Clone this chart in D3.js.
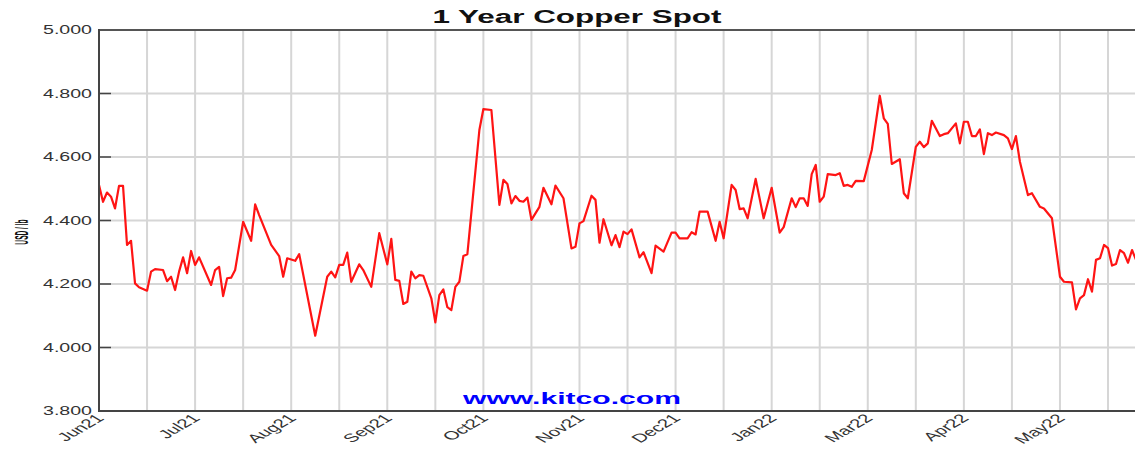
<!DOCTYPE html>
<html>
<head>
<meta charset="utf-8">
<script src="https://cdn.jsdelivr.net/npm/d3@7"></script>
<style>
  body { margin: 0; background: #fff; }
  svg { display: block; font-family: "Liberation Sans", Arial, sans-serif; }
</style>
</head>
<body>
<div id="container"></div>
<script>
// trading day index (0 = start of Jun21) and copper spot price, USD / lb
let tradeDay = [0,1,2,3,4,5,6,7,8,9,10,12,13,14,16,17,18,19,20,21,22,23,24,25,28,29,30,31,32,33,34,36,38,39,40,43,45,46,47,49,50,54,57,58,59,60,61,62,63,65,66,68,70,72,73,74,75,76,77,78,79,80,81,83,84,85,86,87,88,89,90,91,92,95,96,98,100,101,102,103,104,105,106,107,108,110,111,113,114,116,118,119,120,121,123,124,125,126,128,129,130,131,132,133,135,136,138,139,141,143,144,145,147,148,149,150,152,154,155,156,158,159,160,161,162,164,166,168,170,171,173,174,175,176,177,178,179,180,181,182,184,185,186,187,188,189,191,193,195,196,197,198,200,201,202,204,205,206,207,208,210,211,212,214,215,216,217,218,219,220,221,222,223,224,226,227,228,229,230,232,233,235,236,238,240,241,243,244,245,246,247,248,249,250,251,252,253,254,255,256,257,258,259];
let spotPrice = [4.512,4.459,4.488,4.475,4.438,4.509,4.509,4.323,4.336,4.202,4.190,4.179,4.239,4.247,4.244,4.209,4.223,4.181,4.239,4.284,4.234,4.304,4.260,4.284,4.197,4.244,4.254,4.162,4.218,4.220,4.244,4.396,4.336,4.451,4.417,4.323,4.288,4.223,4.281,4.273,4.294,4.037,4.223,4.239,4.221,4.260,4.260,4.299,4.207,4.262,4.244,4.191,4.360,4.262,4.342,4.213,4.210,4.137,4.144,4.239,4.218,4.228,4.226,4.155,4.079,4.165,4.183,4.127,4.118,4.191,4.207,4.288,4.294,4.685,4.751,4.748,4.449,4.528,4.515,4.454,4.477,4.462,4.459,4.472,4.402,4.443,4.503,4.451,4.510,4.470,4.312,4.317,4.391,4.398,4.478,4.465,4.330,4.404,4.322,4.354,4.316,4.365,4.357,4.372,4.284,4.300,4.234,4.321,4.302,4.362,4.362,4.344,4.344,4.363,4.356,4.428,4.428,4.336,4.396,4.344,4.512,4.496,4.436,4.438,4.407,4.531,4.407,4.503,4.362,4.379,4.470,4.442,4.470,4.470,4.446,4.546,4.575,4.459,4.475,4.546,4.543,4.549,4.509,4.512,4.506,4.525,4.524,4.622,4.793,4.722,4.704,4.578,4.593,4.486,4.470,4.632,4.648,4.631,4.643,4.714,4.666,4.672,4.675,4.706,4.643,4.711,4.711,4.666,4.666,4.687,4.609,4.675,4.669,4.677,4.669,4.659,4.625,4.666,4.585,4.480,4.486,4.443,4.438,4.407,4.223,4.207,4.205,4.120,4.155,4.165,4.215,4.176,4.276,4.281,4.323,4.313,4.258,4.263,4.307,4.297,4.267,4.307,4.276];

let yTicks = [3.8, 4.0, 4.2, 4.4, 4.6, 4.8, 5.0];
let gridStep = 12; // trading days between vertical grid lines
let monthLabels = ["Jun21","Jul21","Aug21","Sep21","Oct21","Nov21","Dec21","Jan22","Mar22","Apr22","May22"];
let titleText = "1 Year Copper Spot";
let yTitle = "USD / lb";
let sourceText = "www.kitco.com";

let width = 1135, height = 451;
let plotLeft = 99, plotTop = 30, plotBottom = 411;
let sx = 1.7; // the picture is stretched horizontally

let svg = d3.select('#container').append('svg')
    .attr('width', width).attr('height', height);

let x = d3.scaleLinear().domain([0, 259]).range([plotLeft, plotLeft + 259 * 4.004]);
let y = d3.scaleLinear().domain([3.8, 5.0]).range([plotBottom, plotTop]);

let gridDays = d3.range(0, 253, gridStep);

// grid
svg.append('g').selectAll('line').data(gridDays.slice(1)).join('line')
    .attr('x1', d => x(d)).attr('x2', d => x(d))
    .attr('y1', plotTop).attr('y2', plotBottom)
    .attr('stroke', '#d6d6d6').attr('stroke-width', 2);
svg.append('g').selectAll('line').data(yTicks.slice(1, -1)).join('line')
    .attr('x1', plotLeft).attr('x2', width)
    .attr('y1', d => y(d)).attr('y2', d => y(d))
    .attr('stroke', '#d6d6d6').attr('stroke-width', 2);

// price line
let line = d3.line().x((d, i) => x(tradeDay[i])).y(d => y(d));
svg.append('path').datum(spotPrice)
    .attr('d', line)
    .attr('fill', 'none')
    .attr('stroke', '#ff1414')
    .attr('stroke-width', 2.2)
    .attr('stroke-linejoin', 'round');

// frame
svg.append('line').attr('x1', plotLeft).attr('x2', width).attr('y1', plotTop).attr('y2', plotTop)
    .attr('stroke', '#555').attr('stroke-width', 2);
svg.append('line').attr('x1', plotLeft).attr('x2', width).attr('y1', plotBottom).attr('y2', plotBottom)
    .attr('stroke', '#444').attr('stroke-width', 2);
svg.append('line').attr('x1', plotLeft).attr('x2', plotLeft).attr('y1', plotTop - 1).attr('y2', plotBottom + 1)
    .attr('stroke', '#444').attr('stroke-width', 2);

// y ticks
svg.append('g').selectAll('line').data(yTicks.slice(1, -1)).join('line')
    .attr('x1', plotLeft).attr('x2', plotLeft + 12)
    .attr('y1', d => y(d)).attr('y2', d => y(d))
    .attr('stroke', '#444').attr('stroke-width', 1.5);
svg.append('g').selectAll('text').data(yTicks).join('text')
    .attr('x', 92).attr('y', d => y(d) + 4)
    .attr('text-anchor', 'end')
    .attr('font-size', 12).attr('fill', '#333')
    .attr('textLength', 49).attr('lengthAdjust', 'spacingAndGlyphs')
    .text(d => d3.format('.3f')(d));

// x labels, one every two grid lines
svg.append('g').selectAll('text').data(monthLabels).join('text')
    .attr('transform', (d, i) => `translate(${x(gridDays[i * 2]) + 6},${plotBottom + 8}) scale(${sx},1) rotate(-45)`)
    .attr('text-anchor', 'end')
    .attr('font-size', 12).attr('fill', '#333')
    .text(d => d);

// titles
svg.append('text')
    .attr('x', 577).attr('y', 23)
    .attr('text-anchor', 'middle')
    .attr('font-size', 18).attr('font-weight', 'bold').attr('fill', '#111')
    .attr('textLength', 289).attr('lengthAdjust', 'spacingAndGlyphs')
    .text(titleText);

// axis title: narrow along the text, wide across it
svg.append('text')
    .attr('transform', 'translate(28,232) rotate(-90) scale(0.6,1.75)')
    .attr('text-anchor', 'middle')
    .attr('font-size', 11).attr('font-weight', 'bold').attr('fill', '#111')
    .text(yTitle);

svg.append('text')
    .attr('x', 572).attr('y', 404)
    .attr('text-anchor', 'middle')
    .attr('font-size', 16).attr('font-weight', 'bold').attr('fill', '#0000ff')
    .attr('textLength', 218).attr('lengthAdjust', 'spacingAndGlyphs')
    .text(sourceText);
</script>
</body>
</html>
